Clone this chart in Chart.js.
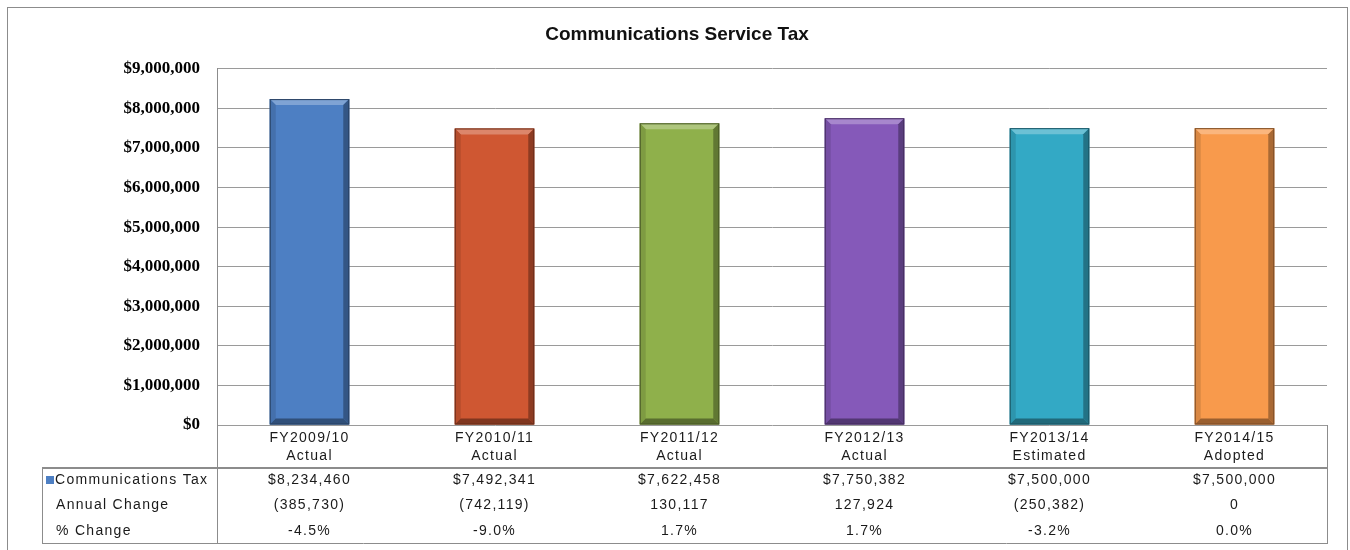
<!DOCTYPE html>
<html>
<head>
<meta charset="utf-8">
<script src="https://cdn.jsdelivr.net/npm/chart.js@4.4.1/dist/chart.umd.min.js"></script>
<style>
  html, body { margin: 0; padding: 0; background: #fff; }
  #myChart { display: block; }
</style>
</head>
<body>
<canvas id="myChart" width="1350" height="550"></canvas>
<script>
// Kategorien und Werte
const years = ['FY2009/10', 'FY2010/11', 'FY2011/12', 'FY2012/13', 'FY2013/14', 'FY2014/15'];
const stages = ['Actual', 'Actual', 'Actual', 'Actual', 'Estimated', 'Adopted'];
const taxValues = [8234460, 7492341, 7622458, 7750382, 7500000, 7500000];
const annualChange = [-385730, -742119, 130117, 127924, -250382, 0];
const pctChange = [-4.5, -9.0, 1.7, 1.7, -3.2, 0.0];
const yTicks = [0, 1000000, 2000000, 3000000, 4000000, 5000000, 6000000, 7000000, 8000000, 9000000];

const barColors = ['#4d7fc3', '#cf5732', '#8fb04b', '#8559b9', '#33a9c5', '#f89a4c'];

function mix(hex, target, amt) {
  const n = parseInt(hex.slice(1), 16);
  const r = (n >> 16) & 255, g = (n >> 8) & 255, b = n & 255;
  const m = c => Math.round(c + (target - c) * amt);
  return 'rgb(' + m(r) + ',' + m(g) + ',' + m(b) + ')';
}

const money = v => '$' + v.toLocaleString('en-US');
const change = v => v < 0 ? '(' + Math.abs(v).toLocaleString('en-US') + ')' : v.toLocaleString('en-US');
const pct = v => v.toFixed(1) + '%';

// Abgeschrägte Kanten auf den Balken
const bevelPlugin = {
  id: 'bevel',
  afterDatasetsDraw(chart) {
    const ctx = chart.ctx;
    chart.getDatasetMeta(0).data.forEach((bar, i) => {
      const p = bar.getProps(['x', 'y', 'base', 'width'], true);
      const l = p.x - p.width / 2, r = p.x + p.width / 2, t = p.y, b = p.base;
      const e = 6;
      const c = barColors[i];
      const poly = (pts, fill) => {
        ctx.beginPath();
        ctx.moveTo(pts[0][0], pts[0][1]);
        for (let k = 1; k < pts.length; k++) ctx.lineTo(pts[k][0], pts[k][1]);
        ctx.closePath();
        ctx.fillStyle = fill;
        ctx.fill();
      };
      ctx.save();
      poly([[l, t], [r, t], [r - e, t + e], [l + e, t + e]], mix(c, 255, 0.28));
      poly([[l, t], [l + e, t + e], [l + e, b - e], [l, b]], mix(c, 0, 0.12));
      poly([[r, t], [r, b], [r - e, b - e], [r - e, t + e]], mix(c, 0, 0.32));
      poly([[l, b], [l + e, b - e], [r - e, b - e], [r, b]], mix(c, 0, 0.38));
      ctx.strokeStyle = mix(c, 0, 0.5);
      ctx.lineWidth = 1;
      ctx.strokeRect(l + 0.5, t + 0.5, p.width - 1, b - t - 1);
      ctx.restore();
    });
  }
};

// Datentabelle unter dem Diagramm
const tablePlugin = {
  id: 'dataTable',
  afterDraw(chart) {
    const ctx = chart.ctx;
    const x = chart.scales.x;
    const area = chart.chartArea;
    const left = 42, right = area.right, axisLeft = area.left;
    const yBase = area.bottom, yHead = 468, yEnd = 543;
    const rows = [480, 505, 531];

    ctx.save();
    ctx.strokeStyle = '#8c8c8c';
    ctx.lineWidth = 1;
    ctx.beginPath();
    ctx.moveTo(right + 0.5, yBase); ctx.lineTo(right + 0.5, yEnd + 0.5);
    ctx.moveTo(axisLeft + 0.5, yBase); ctx.lineTo(axisLeft + 0.5, yEnd + 0.5);
    ctx.moveTo(left + 0.5, yHead); ctx.lineTo(left + 0.5, yEnd + 0.5);
    ctx.moveTo(left, yEnd + 0.5); ctx.lineTo(right + 1, yEnd + 0.5);
    ctx.stroke();
    ctx.lineWidth = 2;
    ctx.beginPath();
    ctx.moveTo(left, yHead); ctx.lineTo(right + 1, yHead);
    ctx.stroke();

    // Achsenbeschriftung und Tabellenwerte
    ctx.fillStyle = '#1a1a1a';
    ctx.font = '14px "Liberation Sans", Arial, sans-serif';
    ctx.letterSpacing = '1.3px';
    ctx.textAlign = 'center';
    ctx.textBaseline = 'middle';
    years.forEach((yr, i) => {
      const cx = x.getPixelForValue(i);
      ctx.fillText(yr, cx, 438);
      ctx.fillText(stages[i], cx, 456);
      ctx.fillText(money(taxValues[i]), cx, rows[0]);
      ctx.fillText(change(annualChange[i]), cx, rows[1]);
      ctx.fillText(pct(pctChange[i]), cx, rows[2]);
    });

    // Zeilenköpfe
    ctx.textAlign = 'left';
    ctx.fillStyle = barColors[0];
    ctx.fillRect(46, 476, 8, 8);
    ctx.fillStyle = '#1a1a1a';
    ctx.fillText('Communications Tax', 55, rows[0]);
    ctx.fillText('Annual Change', 56, rows[1]);
    ctx.fillText('% Change', 56, rows[2]);

    // Rahmen um das ganze Diagramm
    ctx.strokeStyle = '#8c8c8c';
    ctx.lineWidth = 1;
    ctx.strokeRect(7.5, 7.5, 1340, 560);
    ctx.restore();
  }
};

const data = {
  labels: years,
  datasets: [{
    label: 'Communications Tax',
    data: taxValues,
    backgroundColor: barColors,
    borderWidth: 0,
    categoryPercentage: 1,
    barPercentage: 0.43
  }]
};

const config = {
  type: 'bar',
  data: data,
  options: {
    responsive: false,
    animation: false,
    layout: { padding: { left: 27, right: 23, top: 0, bottom: 125 } },
    plugins: {
      legend: { display: false },
      tooltip: { enabled: false },
      title: {
        display: true,
        text: 'Communications Service Tax',
        color: '#111',
        font: { family: '"Liberation Sans", Arial, sans-serif', size: 19, weight: 'bold' },
        padding: { top: 23, bottom: 23 }
      }
    },
    scales: {
      x: { display: false },
      y: {
        min: 0,
        max: 9000000,
        afterFit(scale) { scale.width = 190; },
        afterBuildTicks(scale) { scale.ticks = yTicks.map(v => ({ value: v })); },
        ticks: {
          color: '#000',
          padding: 17,
          font: { family: '"Liberation Serif", "Times New Roman", serif', size: 17, weight: 'bold' },
          callback: v => money(v)
        },
        grid: { color: '#9a9a9a', lineWidth: 1, drawTicks: false },
        border: { display: true, color: '#8c8c8c' }
      }
    }
  },
  plugins: [bevelPlugin, tablePlugin]
};

new Chart(document.getElementById('myChart'), config);
</script>
</body>
</html>
